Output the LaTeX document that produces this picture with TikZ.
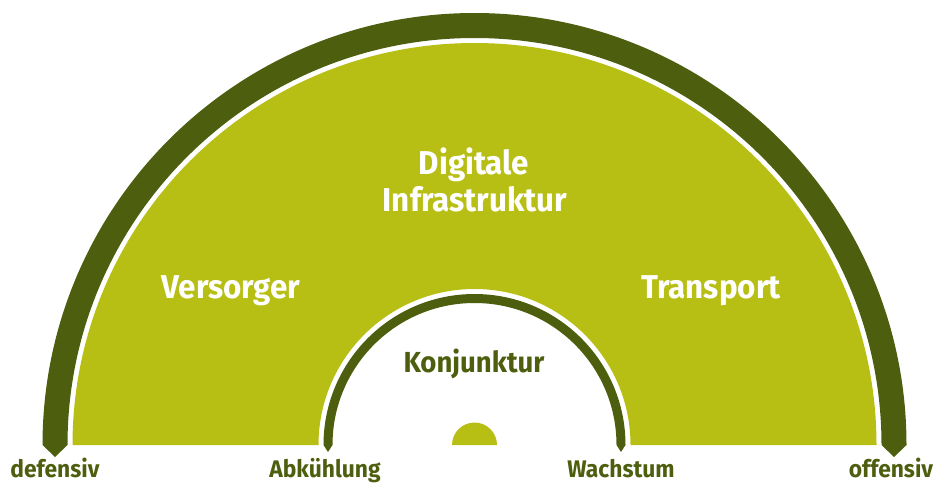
\documentclass[tikz,border=0pt]{standalone}
\usepackage{fontspec}
\usetikzlibrary{calc}
\setmainfont[FakeStretch=0.95]{Fira Sans}
\definecolor{darkolive}{HTML}{4D5E0E}
\definecolor{lightolive}{HTML}{B8BF14}
\begin{document}
\begin{tikzpicture}[x=1pt,y=-1pt,
  bigtxt/.style={text=white,font=\fontsize{33}{37}\selectfont\bfseries,anchor=base,inner sep=0pt},
  midtxt/.style={text=darkolive,font=\fontsize{29}{35}\selectfont\bfseries,anchor=base,inner sep=0pt},
  smalltxt/.style={text=darkolive,font=\fontsize{24}{28}\selectfont\bfseries,anchor=base,inner sep=0pt}]
\useasboundingbox (0,0) rectangle (936,483);
\coordinate (C) at (474.5,445);
% outer dark band
\fill[darkolive] ($(C)+(-432,0)$) arc[start angle=180,end angle=360,radius=432]
  -- ($(C)+(419.5,12)$) -- ($(C)+(407,0)$)
  arc[start angle=360,end angle=180,radius=407]
  -- ($(C)+(-419.5,12)$) -- cycle;
% light green region
\fill[lightolive] ($(C)+(-402,0)$) arc[start angle=180,end angle=360,radius=402]
  -- ($(C)+(156,0)$) arc[start angle=360,end angle=180,radius=156] -- cycle;
% inner dark ring
\fill[darkolive] ($(C)+(-151,0)$) arc[start angle=180,end angle=360,radius=151]
  -- ($(C)+(146.5,7)$) -- ($(C)+(142,0)$)
  arc[start angle=360,end angle=180,radius=142]
  -- ($(C)+(-146.5,7)$) -- cycle;
% small semicircle
\fill[lightolive] ($(C)+(-22.5,0)$) arc[start angle=180,end angle=360,radius=22.5] -- cycle;
% labels
\node[bigtxt] (dig) at (474,174) {Digitale};
\node[bigtxt] (inf) at (475,211) {Infrastruktur};
\node[bigtxt] (ver) at (231,298) {Versorger};
\node[bigtxt] (tra) at (711,298) {Transport};
\node[midtxt] (kon) at (474,372) {Konjunktur};
\node[smalltxt] (def) at (55,477) {defensiv};
\node[smalltxt] (abk) at (325,477) {Abkühlung};
\node[smalltxt] (wac) at (621,477) {Wachstum};
\node[smalltxt] (off) at (891,477) {offensiv};
\end{tikzpicture}
\end{document}
